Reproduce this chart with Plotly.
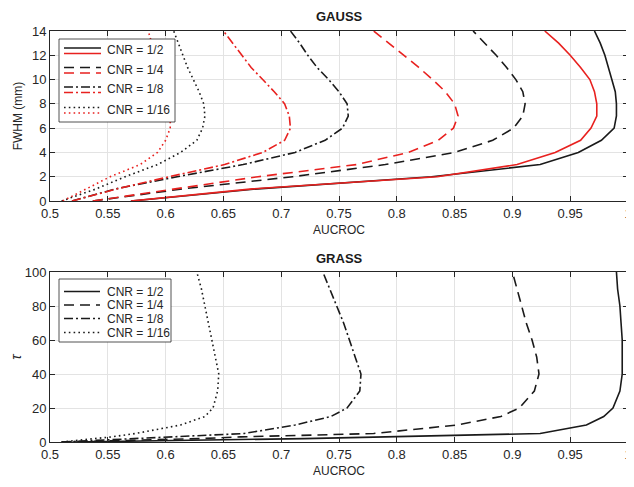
import plotly.graph_objects as go

# ---------------- data ----------------
fwhm = [0, 1, 2, 3, 4, 5, 6, 7, 8, 9, 10, 11, 12, 13, 14]

gauss_black = {
    "1/2":  [0.570, 0.680, 0.830, 0.924, 0.957, 0.977, 0.988, 0.990, 0.990, 0.989, 0.986, 0.983, 0.980, 0.976, 0.971],
    "1/4":  [0.537, 0.615, 0.710, 0.790, 0.850, 0.883, 0.901, 0.909, 0.911, 0.909, 0.903, 0.895, 0.886, 0.876, 0.866],
    "1/8":  [0.519, 0.557, 0.610, 0.667, 0.712, 0.738, 0.753, 0.758, 0.757, 0.750, 0.741, 0.731, 0.723, 0.716, 0.708],
    "1/16": [0.510, 0.540, 0.565, 0.593, 0.613, 0.627, 0.632, 0.634, 0.633, 0.629, 0.624, 0.619, 0.615, 0.611, 0.607],
}
gauss_red = {
    "1/2":  [0.570, 0.675, 0.835, 0.904, 0.937, 0.959, 0.968, 0.973, 0.973, 0.971, 0.967, 0.959, 0.950, 0.940, 0.928],
    "1/4":  [0.537, 0.610, 0.680, 0.765, 0.810, 0.836, 0.849, 0.853, 0.850, 0.842, 0.831, 0.819, 0.806, 0.793, 0.780],
    "1/8":  [0.519, 0.558, 0.603, 0.651, 0.684, 0.703, 0.708, 0.707, 0.703, 0.694, 0.684, 0.674, 0.666, 0.658, 0.650],
    "1/16": [0.511, 0.532, 0.552, 0.578, 0.593, 0.600, 0.604, 0.604, 0.603, 0.600, 0.597, 0.594, 0.591, 0.588, 0.585],
}

tau = [0, 1, 2, 3, 5, 10, 15, 20, 30, 40, 50, 60, 70, 80, 90, 100]
grass = {
    "1/2":  [0.520, 0.640, 0.720, 0.790, 0.924, 0.964, 0.979, 0.987, 0.993, 0.995, 0.995, 0.995, 0.994, 0.993, 0.991, 0.990],
    "1/4":  [0.510, 0.580, 0.630, 0.665, 0.780, 0.852, 0.890, 0.906, 0.919, 0.923, 0.921, 0.917, 0.912, 0.908, 0.904, 0.900],
    "1/8":  [0.510, 0.540, 0.570, 0.600, 0.668, 0.712, 0.743, 0.757, 0.768, 0.769, 0.764, 0.759, 0.754, 0.748, 0.742, 0.736],
    "1/16": [0.510, 0.525, 0.540, 0.553, 0.574, 0.613, 0.634, 0.641, 0.645, 0.646, 0.643, 0.640, 0.637, 0.634, 0.631, 0.627],
}

cnr_labels = ["1/2", "1/4", "1/8", "1/16"]
x_ticks = [0.5, 0.55, 0.6, 0.65, 0.7, 0.75, 0.8, 0.85, 0.9, 0.95, 1.0]
x_ticktext = ["0.5", "0.55", "0.6", "0.65", "0.7", "0.75", "0.8", "0.85", "0.9", "0.95", "1"]
y1_ticks = [0, 2, 4, 6, 8, 10, 12, 14]
y2_ticks = [0, 20, 40, 60, 80, 100]

# ---------------- style ----------------
OFF = 8                      # page body margin of the html page
W, H = 634 - OFF, 487 - OFF
BLACK = "#1a1a1a"
RED = "#e8211f"
AX = "#262626"
GRID = "#e3e3e3"
FONT = "Liberation Sans, Arial, sans-serif"
LW = 1.6
dashes = {"1/2": "solid", "1/4": "10px,6px", "1/8": "9px,3px,2px,3px", "1/16": "1.6px,3.2px"}


def px_x(p):
    return (p - OFF) / W


def px_y(p):
    return 1 - (p - OFF) / H


fig = go.Figure()

for lab in cnr_labels:
    fig.add_trace(go.Scatter(x=gauss_black[lab], y=fwhm, mode="lines", xaxis="x", yaxis="y",
                             line=dict(color=BLACK, width=LW, dash=dashes[lab]), showlegend=False))
    fig.add_trace(go.Scatter(x=gauss_red[lab], y=fwhm, mode="lines", xaxis="x", yaxis="y",
                             line=dict(color=RED, width=LW, dash=dashes[lab]), showlegend=False))
    fig.add_trace(go.Scatter(x=grass[lab], y=tau, mode="lines", xaxis="x2", yaxis="y2",
                             line=dict(color=BLACK, width=LW, dash=dashes[lab]), showlegend=False))

xdom = [px_x(50), px_x(628)]
axis_common = dict(showline=True, linecolor=AX, linewidth=1, mirror="ticks", ticks="inside",
                   ticklen=5, tickcolor=AX, showgrid=True, gridcolor=GRID, gridwidth=1,
                   zeroline=False, automargin=False, tickfont=dict(family=FONT, size=13, color=AX))

fig.update_layout(
    width=W, height=H, paper_bgcolor="white", plot_bgcolor="white",
    margin=dict(l=0, r=0, t=0, b=0, autoexpand=False), showlegend=False,
    font=dict(family=FONT, color=AX),
    xaxis=dict(domain=xdom, anchor="y", range=[0.5, 1.0], tickvals=x_ticks, ticktext=x_ticktext,
               title=dict(text="AUCROC", font=dict(size=12, color=AX), standoff=6), **axis_common),
    yaxis=dict(domain=[px_y(201), px_y(31)], anchor="x", range=[0, 14], tickvals=y1_ticks,
               title=dict(text="FWHM (mm)", font=dict(size=12, color=AX), standoff=6), **axis_common),
    xaxis2=dict(domain=xdom, anchor="y2", range=[0.5, 1.0], tickvals=x_ticks, ticktext=x_ticktext,
                title=dict(text="AUCROC", font=dict(size=12, color=AX), standoff=6), **axis_common),
    yaxis2=dict(domain=[px_y(442), px_y(272)], anchor="x2", range=[0, 100], tickvals=y2_ticks,
                title=dict(text="<i>τ</i>", font=dict(size=14, color=AX), standoff=8), **axis_common),
)

# titles
for txt, yp in [("GAUSS", 17), ("GRASS", 258)]:
    fig.add_annotation(text="<b>" + txt + "</b>", x=px_x(339), y=px_y(yp), xref="paper", yref="paper",
                       showarrow=False, font=dict(family=FONT, size=13, color=BLACK), xanchor="center",
                       yanchor="middle")

# legends (drawn as layout decoration)
shapes = []
# top legend
shapes.append(dict(type="rect", xref="paper", yref="paper", x0=px_x(59), x1=px_x(175), y0=px_y(122), y1=px_y(39),
                   line=dict(color=AX, width=0.8), fillcolor="white", layer="above"))
top_rows = [50.5, 70, 89.5, 110]
for lab, ty in zip(cnr_labels, top_rows):
    for col, off in [(BLACK, -2.5), (RED, 3)]:
        shapes.append(dict(type="line", xref="paper", yref="paper", x0=px_x(64), x1=px_x(101),
                           y0=px_y(ty + off), y1=px_y(ty + off), layer="above",
                           line=dict(color=col, width=LW, dash=dashes[lab])))
    fig.add_annotation(text="CNR = " + lab, x=px_x(105), y=px_y(ty), xref="paper", yref="paper",
                       showarrow=False, xanchor="left", yanchor="middle",
                       font=dict(family=FONT, size=12, color=AX))
# bottom legend
shapes.append(dict(type="rect", xref="paper", yref="paper", x0=px_x(59), x1=px_x(171), y0=px_y(342), y1=px_y(279),
                   line=dict(color=AX, width=0.8), fillcolor="white", layer="above"))
bot_rows = [291.5, 305, 318.5, 332.5]
for lab, ty in zip(cnr_labels, bot_rows):
    shapes.append(dict(type="line", xref="paper", yref="paper", x0=px_x(64), x1=px_x(100),
                       y0=px_y(ty), y1=px_y(ty), layer="above",
                       line=dict(color=BLACK, width=LW, dash=dashes[lab])))
    fig.add_annotation(text="CNR = " + lab, x=px_x(105), y=px_y(ty), xref="paper", yref="paper",
                       showarrow=False, xanchor="left", yanchor="middle",
                       font=dict(family=FONT, size=12, color=AX))
fig.update_layout(shapes=shapes)

fig.write_html("out.html")
